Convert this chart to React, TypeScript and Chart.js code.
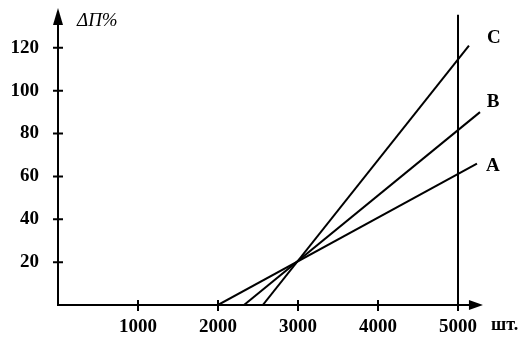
import React, { useEffect, useRef } from 'react';
import { Chart, registerables } from 'chart.js';

Chart.register(...registerables);

// Tick labels
const xTickValues = [1000, 2000, 3000, 4000, 5000];
const yTickValues = [20, 40, 60, 80, 100, 120];

// Series (straight lines, start/end points)
const seriesNames = ['A', 'B', 'C'];
const lineAx = [2000, 5237];
const lineAy = [0, 66];
const lineBx = [2325, 5275];
const lineBy = [0, 90];
const lineCx = [2560, 5137];
const lineCy = [0, 121];
// vertical capacity line at 5000
const limitX = [5000, 5000];
const limitY = [0, 135.5];

const xAxisLabel = 'шт.';
const yAxisLabel = 'ΔП%';

const xMax = 5300;
const yMax = 140;
const xArrowEnd = 5312;
const yArrowEnd = 138.6;

const FONT = '"Liberation Serif", "Times New Roman", serif';

const toPts = (xs: number[], ys: number[]) => xs.map((x, i) => ({ x, y: ys[i] }));

const labelOffsets = [
  [16, 3],
  [13, -10],
  [25, -8],
];

const axesPlugin = {
  id: 'customAxes',
  afterDraw(chart: any) {
    const { ctx } = chart;
    const xs = chart.scales.x;
    const ys = chart.scales.y;
    const x0 = xs.getPixelForValue(0);
    const y0 = ys.getPixelForValue(0);
    const yTop = ys.getPixelForValue(yArrowEnd);
    const xRight = xs.getPixelForValue(xArrowEnd);
    ctx.save();
    ctx.strokeStyle = '#000';
    ctx.fillStyle = '#000';
    ctx.lineWidth = 2;
    ctx.beginPath();
    ctx.moveTo(x0, y0 + 1);
    ctx.lineTo(x0, yTop + 12);
    ctx.moveTo(x0 - 1, y0);
    ctx.lineTo(xRight - 12, y0);
    ctx.stroke();
    // arrows
    ctx.beginPath();
    ctx.moveTo(x0, yTop);
    ctx.lineTo(x0 - 5, yTop + 17);
    ctx.lineTo(x0 + 5, yTop + 17);
    ctx.closePath();
    ctx.fill();
    ctx.beginPath();
    ctx.moveTo(xRight, y0);
    ctx.lineTo(xRight - 14, y0 - 5);
    ctx.lineTo(xRight - 14, y0 + 5);
    ctx.closePath();
    ctx.fill();
    // tick marks crossing axes
    ctx.beginPath();
    yTickValues.forEach((v) => {
      const p = ys.getPixelForValue(v);
      ctx.moveTo(x0 - 5, p);
      ctx.lineTo(x0 + 5, p);
    });
    xTickValues.forEach((v) => {
      const p = xs.getPixelForValue(v);
      ctx.moveTo(p, y0 - 5);
      ctx.lineTo(p, y0 + 6);
    });
    ctx.stroke();
    // axis titles
    ctx.font = 'italic 19px ' + FONT;
    ctx.textAlign = 'left';
    ctx.textBaseline = 'middle';
    ctx.fillText(yAxisLabel, x0 + 19, 21);
    ctx.font = 'bold 18px ' + FONT;
    ctx.fillText(xAxisLabel, 491, 325);
    // series labels
    ctx.font = 'bold 19px ' + FONT;
    ctx.textAlign = 'center';
    const ends = [
      [lineAx[1], lineAy[1]],
      [lineBx[1], lineBy[1]],
      [lineCx[1], lineCy[1]],
    ];
    seriesNames.forEach((n, i) => {
      const px = xs.getPixelForValue(ends[i][0]) + labelOffsets[i][0];
      const py = ys.getPixelForValue(ends[i][1]) + labelOffsets[i][1];
      ctx.fillText(n, px, py);
    });
    ctx.restore();
  },
};

const zeroPad = (s: any) => {
  s.paddingTop = 0;
  s.paddingBottom = 0;
  s.paddingLeft = 0;
  s.paddingRight = 0;
};

export default function App() {
  const ref = useRef<HTMLCanvasElement | null>(null);
  useEffect(() => {
    const prevMargin = document.body.style.margin;
    document.body.style.margin = '0';
    const lineStyle = {
      showLine: true,
      borderColor: '#000',
      borderWidth: 2,
      pointRadius: 0,
      fill: false,
      tension: 0,
    };
    const chart = new Chart(ref.current as HTMLCanvasElement, {
      type: 'scatter',
      data: {
        datasets: [
          { label: seriesNames[0], data: toPts(lineAx, lineAy), ...lineStyle },
          { label: seriesNames[1], data: toPts(lineBx, lineBy), ...lineStyle },
          { label: seriesNames[2], data: toPts(lineCx, lineCy), ...lineStyle },
          { label: 'limit', data: toPts(limitX, limitY), ...lineStyle },
        ],
      },
      options: {
        animation: false,
        responsive: false,
        layout: { padding: { left: 0, top: 5, right: 49, bottom: 0 } },
        plugins: { legend: { display: false }, tooltip: { enabled: false } },
        scales: {
          x: {
            type: 'linear',
            min: 0,
            max: xMax,
            grid: { display: false },
            border: { display: false },
            afterBuildTicks: (s: any) => {
              s.ticks = xTickValues.map((v) => ({ value: v }));
            },
            afterFit: (s: any) => {
              s.height = 47;
              zeroPad(s);
            },
            ticks: {
              padding: 3,
              color: '#000',
              maxRotation: 0,
              autoSkip: false,
              callback: (v: any) => String(v),
              font: { family: FONT, size: 19, weight: 'bold' },
            },
          },
          y: {
            type: 'linear',
            min: 0,
            max: yMax,
            grid: { display: false },
            border: { display: false },
            afterBuildTicks: (s: any) => {
              s.ticks = yTickValues.map((v) => ({ value: v }));
            },
            afterFit: (s: any) => {
              s.width = 58;
              zeroPad(s);
            },
            ticks: {
              padding: 11,
              color: '#000',
              autoSkip: false,
              callback: (v: any) => String(v),
              font: { family: FONT, size: 19, weight: 'bold' },
            },
          },
        },
      } as any,
      plugins: [axesPlugin],
    });
    return () => {
      chart.destroy();
      document.body.style.margin = prevMargin;
    };
  }, []);
  return (
    <div style={{ position: 'absolute', left: 0, top: 0, width: 531, height: 352, background: '#fff' }}>
      <canvas ref={ref} width={531} height={352} />
    </div>
  );
}
